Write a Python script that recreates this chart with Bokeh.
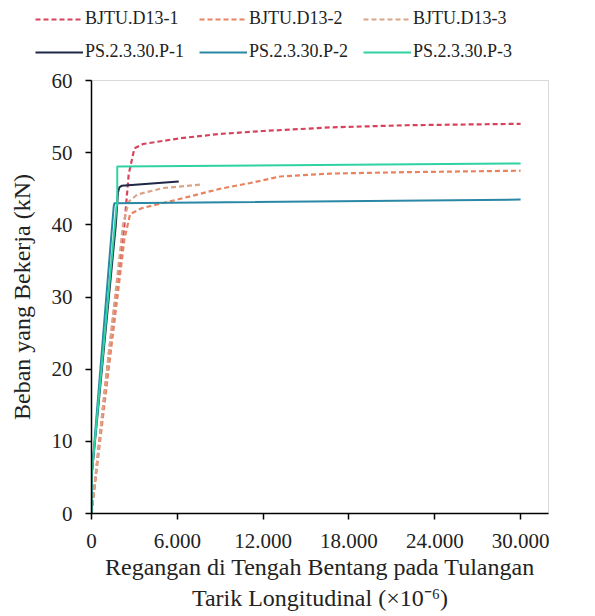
from bokeh.plotting import figure
from bokeh.models import (Legend, LegendItem, FixedTicker, CustomJSTickFormatter, Range1d)
from bokeh.embed import file_html
from bokeh.resources import INLINE

# ---- data (strain x1e-6, load kN) ----
bjtu1_x = [0, 1200, 2300, 2600, 3000, 3600, 6200, 9000, 12000, 16700, 22000, 30000]
bjtu1_y = [0, 22, 40, 47, 50.6, 51.2, 52.0, 52.6, 53.0, 53.5, 53.8, 54.0]
bjtu2_x = [0, 1200, 2300, 2700, 3500, 6000, 9000, 11100, 13200, 16700, 22000, 30000]
bjtu2_y = [0, 20, 38, 41.5, 42.3, 43.5, 45.0, 45.8, 46.7, 47.1, 47.3, 47.5]
bjtu3_x = [0, 1200, 2200, 2600, 3200, 5000, 7800]
bjtu3_y = [0, 22, 40, 43.2, 44.2, 45.1, 45.6]
ps1_x = [0, 0, 1700, 1850, 1950, 2100, 6100]
ps1_y = [0, 5, 40, 44.5, 45.2, 45.4, 46.0]
ps2_x = [0, 0, 1550, 1600, 30000]
ps2_y = [0, 5, 42.5, 43.0, 43.5]
ps3_x = [0, 0, 1750, 1800, 1800, 30000]
ps3_y = [0, 5, 42.5, 43.0, 48.1, 48.5]

series_names = ["BJTU.D13-1", "BJTU.D13-2", "BJTU.D13-3",
                "PS.2.3.30.P-1", "PS.2.3.30.P-2", "PS.2.3.30.P-3"]
series_x = [bjtu1_x, bjtu2_x, bjtu3_x, ps1_x, ps2_x, ps3_x]
series_y = [bjtu1_y, bjtu2_y, bjtu3_y, ps1_y, ps2_y, ps3_y]
colors = ["#d6435b", "#e8825f", "#d9a487", "#1e2847", "#2a87a5", "#2fd3a2"]
dashes = ["5 3", "5 3", "5 3", "solid", "solid", "solid"]
widths = [2.2, 2.2, 2.2, 2, 2, 2]

x_ticks = [0, 6000, 12000, 18000, 24000, 30000]
y_ticks = [0, 10, 20, 30, 40, 50, 60]

FONT = "Liberation Serif"

# ---- legend strip (its own root, so the legend can start left of the plot frame) ----
pl = figure(width=587, height=62, output_backend="svg", toolbar_location=None,
            x_range=Range1d(-2, -1), y_range=Range1d(-2, -1),
            x_axis_type=None, y_axis_type=None)
pl.min_border = 0
pl.outline_line_color = None
pl.grid.visible = False
items = []
for name, xs, ys, c, d, w in zip(series_names, series_x, series_y, colors, dashes, widths):
    rr = pl.line(xs, ys, line_color=c, line_dash=d, line_width=w)
    items.append(LegendItem(label=name, renderers=[rr]))
legend = Legend(items=items, ncols=3, orientation="horizontal", location=(35, 0))
legend.glyph_width = 48
legend.glyph_height = 20
legend.label_standoff = 2
legend.label_width = 102
legend.label_height = 20
legend.spacing = 12
legend.padding = 0
legend.margin = 0
legend.border_line_color = None
legend.background_fill_alpha = 0
legend.label_text_font = FONT
legend.label_text_font_size = "18px"
legend.label_text_color = "#222222"
pl.add_layout(legend, "center")

# ---- main chart ----
p = figure(width=587, height=554, output_backend="svg", toolbar_location=None,
           x_range=Range1d(0, 31950), y_range=Range1d(0, 60))
p.min_border_left = 91
p.min_border_right = 39
p.min_border_top = 18
p.min_border_bottom = 103
p.outline_line_color = "#d9d9d9"
p.grid.visible = False

for xs, ys, c, d, w in zip(series_x, series_y, colors, dashes, widths):
    p.line(xs, ys, line_color=c, line_dash=d, line_width=w)

for ax in (p.xaxis[0], p.yaxis[0]):
    ax.axis_line_color = "black"
    ax.axis_line_width = 1.5
    ax.major_tick_line_color = "black"
    ax.major_tick_line_width = 1.5
    ax.major_tick_in = 0
    ax.major_tick_out = 6
    ax.minor_tick_line_color = None
    ax.major_label_text_font = FONT
    ax.major_label_text_font_size = "21px"
    ax.major_label_text_color = "#222222"
    ax.axis_label_text_font = FONT
    ax.axis_label_text_font_size = "24px"
    ax.axis_label_text_font_style = "normal"
    ax.axis_label_text_color = "#222222"

p.xaxis.ticker = FixedTicker(ticks=x_ticks)
p.yaxis.ticker = FixedTicker(ticks=y_ticks)
p.xaxis.formatter = CustomJSTickFormatter(code="return tick == 0 ? '0' : (tick/1000).toFixed(3);")
p.xaxis.major_label_standoff = 14
p.yaxis.major_label_standoff = 13
p.xaxis.axis_label = "Regangan di Tengah Bentang pada Tulangan\nTarik Longitudinal (\u00d710\u207b\u2076)"
p.yaxis.axis_label = "Beban yang Bekerja (kN)"
p.xaxis.axis_label_standoff = 3
p.yaxis.axis_label_standoff = 14

open("out.html", "w").write(file_html([pl, p], INLINE))
